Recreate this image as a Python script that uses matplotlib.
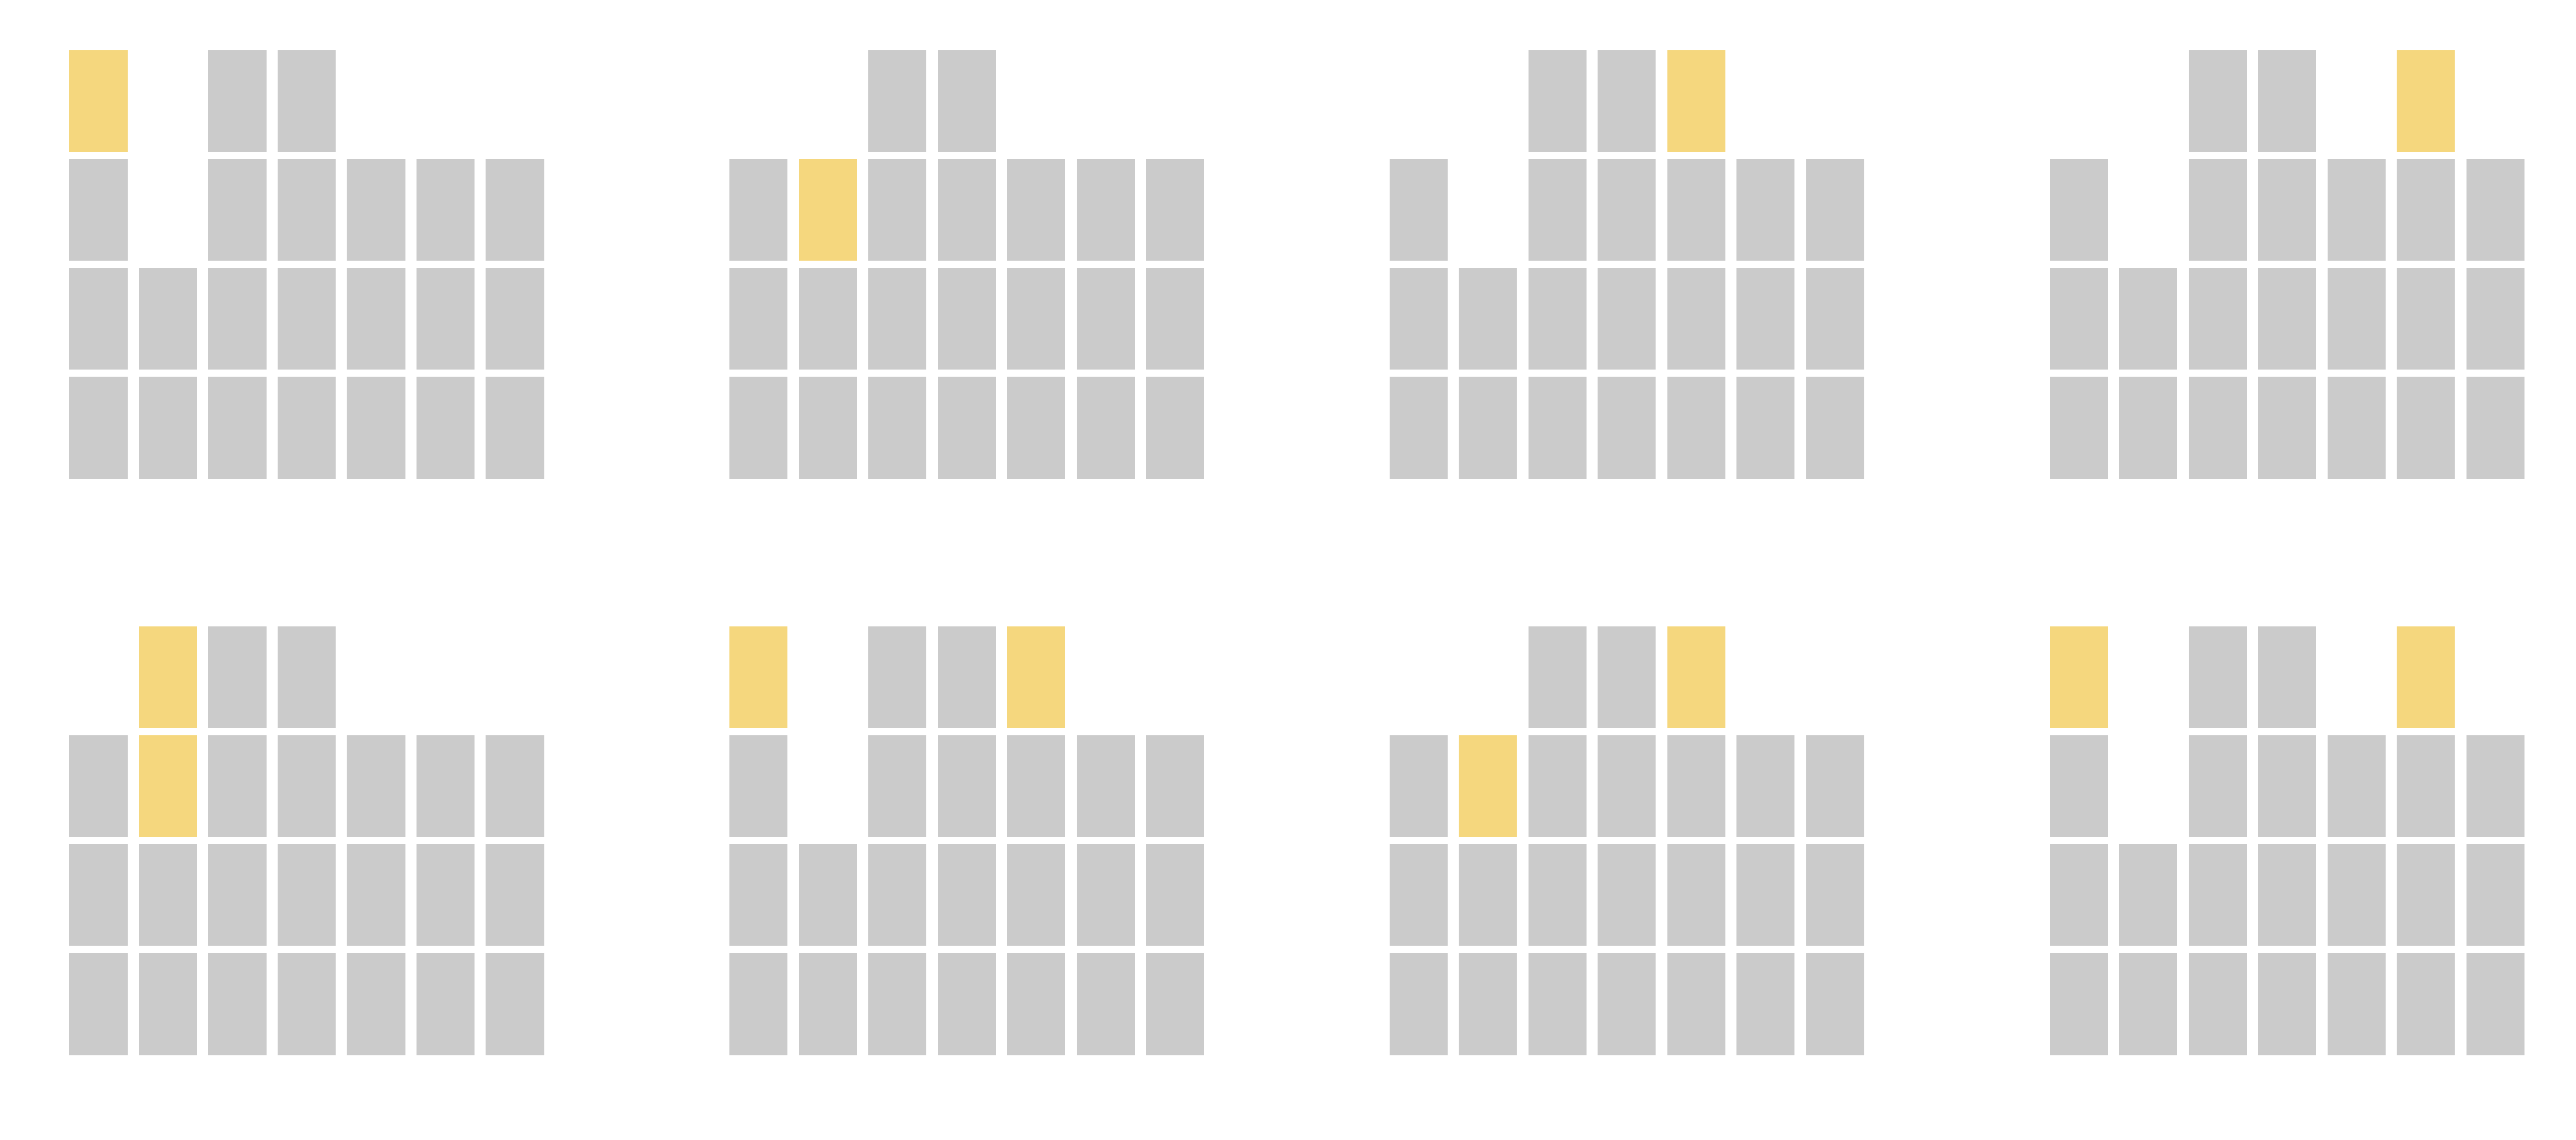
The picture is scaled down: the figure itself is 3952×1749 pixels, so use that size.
import matplotlib
matplotlib.use("Agg")
import matplotlib.pyplot as plt
import numpy as np

# stack heights of the grey blocks, same in every panel
base = np.array([3, 2, 4, 4, 3, 3, 3])

# yellow blocks added on top, one list per panel (row by row)
extra = [
    [1, 0, 0, 0, 0, 0, 0],
    [0, 1, 0, 0, 0, 0, 0],
    [0, 0, 0, 0, 1, 0, 0],
    [0, 0, 0, 0, 0, 1, 0],
    [0, 2, 0, 0, 0, 0, 0],
    [1, 0, 0, 0, 1, 0, 0],
    [0, 1, 0, 0, 1, 0, 0],
    [1, 0, 0, 0, 0, 1, 0],
]

grey = "#cbcbcb"
yellow = "#f5d77e"

W, H, dpi = 3953, 1749, 300
fig = plt.figure(figsize=(W / dpi, H / dpi), dpi=dpi)

x = np.arange(len(base))
for i, add in enumerate(extra):
    row, col = divmod(i, 4)
    left = 97.25 + col * 1012.7
    bottom = [739.5, 1623.5][row]
    ax = fig.add_axes([left / W, (H - bottom) / H, 745.5 / W, 669 / H])
    total = base + np.array(add)
    for level in range(total.max()):
        cols = x[total > level]
        colors = [grey if level < base[c] else yellow for c in cols]
        ax.bar(cols, np.ones(len(cols)), bottom=level, width=0.94,
               color=colors, edgecolor="white", linewidth=2.64)
    ax.set_xlim(-0.5, 6.5)
    ax.set_ylim(0, 4)
    ax.axis("off")

fig.savefig("out.png", dpi=dpi)
